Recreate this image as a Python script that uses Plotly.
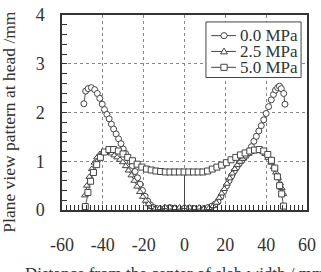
import plotly.graph_objects as go

# ---- data ----
x_00 = [-49.3, -48.4, -47.2, -45.6, -44.0, -42.7, -41.5, -40.3, -39.2, -38.0,
        -36.9, -35.8, -34.7, -33.5, -32.3, -31.1, -30.0, -28.9, -27.7, -26.6,
        -25.5, -24.2, -23.0, -21.8, -20.6, -19.3, -18.0, -16.6, -15.2, -13.6,
        -11.6, -9.4, -7.2, -4.8, -2.4, 0.0,
        2.4, 4.8, 7.2, 9.4, 11.6, 13.4, 15.0, 16.4, 17.8, 19.2,
        20.5, 21.8, 23.1, 24.4, 25.6, 26.8, 28.0, 29.2, 30.4, 31.6,
        32.8, 34.0, 35.2, 36.4, 37.6, 38.8, 40.0, 41.2, 42.5, 43.6,
        44.6, 45.6, 46.5, 47.4, 48.6, 49.2]
y_00 = [2.18, 2.44, 2.49, 2.51, 2.47, 2.39, 2.29, 2.17, 2.06, 1.96,
        1.87, 1.76, 1.66, 1.56, 1.46, 1.36, 1.25, 1.16, 1.07, 0.99,
        0.91, 0.79, 0.66, 0.53, 0.40, 0.28, 0.18, 0.10, 0.05, 0.03,
        0.02, 0.03, 0.05, 0.04, 0.02, 0.03,
        0.04, 0.03, 0.02, 0.03, 0.05, 0.08, 0.12, 0.17, 0.27, 0.38,
        0.49, 0.60, 0.70, 0.80, 0.88, 0.95, 1.01, 1.07, 1.13, 1.19,
        1.30, 1.41, 1.51, 1.62, 1.73, 1.85, 1.98, 2.12, 2.26, 2.37,
        2.46, 2.51, 2.54, 2.49, 2.39, 2.17]

x_25 = [-48.8, -47.8, -46.6, -45.4, -44.1, -42.8, -41.4, -40.0, -38.6, -37.2,
        -35.8, -34.4, -33.0, -31.6, -30.2, -28.8, -27.4, -26.0, -24.6, -23.2,
        -21.8, -20.4, -19.0, -17.6, -16.0, -14.2, -12.0, -9.6, -7.2, -4.8,
        -2.4, 0.0,
        2.4, 4.8, 7.2, 9.6, 12.0, 14.0, 15.6, 17.0, 18.2, 19.5,
        20.8, 22.1, 23.4, 24.6, 25.9, 27.2, 28.5, 29.8, 31.2, 32.6,
        34.0, 35.4, 36.8, 38.2, 39.6, 41.0, 42.4, 43.7, 44.8, 45.8,
        46.8, 47.6, 48.4]
y_25 = [0.30, 0.50, 0.68, 0.84, 0.97, 1.08, 1.15, 1.19, 1.20, 1.19,
        1.16, 1.12, 1.08, 1.03, 0.98, 0.90, 0.81, 0.71, 0.60, 0.48,
        0.37, 0.27, 0.19, 0.12, 0.06, 0.03, 0.04, 0.06, 0.05, 0.04,
        0.05, 0.06,
        0.05, 0.04, 0.05, 0.03, 0.04, 0.08, 0.15, 0.25, 0.34, 0.43,
        0.54, 0.65, 0.75, 0.84, 0.92, 0.99, 1.05, 1.10, 1.15, 1.19,
        1.21, 1.22, 1.22, 1.20, 1.15, 1.07, 0.97, 0.88, 0.77, 0.66,
        0.55, 0.45, 0.33]

x_50 = [-48.6, -47.3, -46.0, -44.6, -43.0, -41.2, -39.2, -37.0, -34.7, -32.4,
        -30.1, -27.8, -25.5, -23.2, -20.9, -18.6, -16.3, -14.0, -11.7, -9.4,
        -7.1, -4.8, -2.5, -0.2, 2.1, 4.4, 6.7, 9.0, 11.3, 13.6,
        15.9, 18.2, 20.5, 22.8, 25.1, 27.4, 29.7, 32.0, 34.3, 36.6,
        38.8, 40.8, 42.6, 44.2, 45.5, 46.6, 47.6, 48.5]
y_50 = [0.07, 0.36, 0.59, 0.77, 0.93, 1.08, 1.19, 1.24, 1.24, 1.21,
        1.15, 1.08, 1.01, 0.94, 0.88, 0.84, 0.82, 0.80, 0.79, 0.78,
        0.78, 0.78, 0.78, 0.78, 0.78, 0.78, 0.78, 0.78, 0.80, 0.84,
        0.88, 0.92, 0.97, 1.03, 1.08, 1.13, 1.17, 1.21, 1.23, 1.24,
        1.21, 1.14, 1.02, 0.86, 0.68, 0.50, 0.33, 0.08]

center_x = [0.0, 0.0]
center_y = [0.0, 0.78]

series_names = ["0.0 MPa", "2.5 MPa", "5.0 MPa"]
x_ticks = [-60, -40, -20, 0, 20, 40, 60]
y_ticks = [0, 1, 2, 3, 4]

FONT = "Liberation Serif"
INK = "#444444"
TXT = "#333333"

fig = go.Figure()

fig.add_trace(go.Scatter(x=center_x, y=center_y, mode="lines",
                         line=dict(color=INK, width=1), showlegend=False,
                         hoverinfo="skip"))

symbols = ["circle", "triangle-up", "square"]
for xs, ys, name, sym in [(x_00, y_00, series_names[0], symbols[0]),
                          (x_25, y_25, series_names[1], symbols[1]),
                          (x_50, y_50, series_names[2], symbols[2])]:
    fig.add_trace(go.Scatter(
        x=xs, y=ys, name=name, mode="lines+markers",
        line=dict(color="#555555", width=1),
        marker=dict(symbol=sym, size=6, color="white",
                    line=dict(color=INK, width=1)),
        showlegend=False,
    ))

# ---- custom compact legend (paper coordinates) ----
shapes = []
annotations = []
box = dict(x0=0.5875, x1=0.9758, y0=0.6795, y1=0.9644)
shapes.append(dict(type="rect", xref="paper", yref="paper", **box,
                   fillcolor="white", line=dict(color=INK, width=1), layer="above"))
row_y = [0.8941, 0.8132, 0.7317]
lx0, lx1, mx = 0.6089, 0.7097, 0.6613
rx, ry = 3.2 / 248, 3.2 / 205
for name, sym, yy in zip(series_names, symbols, row_y):
    shapes.append(dict(type="line", xref="paper", yref="paper",
                       x0=lx0, x1=lx1, y0=yy, y1=yy,
                       line=dict(color=INK, width=1), layer="above"))
    if sym == "circle":
        shapes.append(dict(type="circle", xref="paper", yref="paper",
                           x0=mx - rx, x1=mx + rx, y0=yy - ry, y1=yy + ry,
                           fillcolor="white", line=dict(color=INK, width=1), layer="above"))
    elif sym == "square":
        shapes.append(dict(type="rect", xref="paper", yref="paper",
                           x0=mx - rx, x1=mx + rx, y0=yy - ry, y1=yy + ry,
                           fillcolor="white", line=dict(color=INK, width=1), layer="above"))
    else:
        path = "M {:.4f},{:.4f} L {:.4f},{:.4f} L {:.4f},{:.4f} Z".format(
            mx - rx * 1.1, yy - ry * 0.8, mx + rx * 1.1, yy - ry * 0.8, mx, yy + ry * 1.1)
        shapes.append(dict(type="path", xref="paper", yref="paper", path=path,
                           fillcolor="white", line=dict(color=INK, width=1), layer="above"))
    annotations.append(dict(text=name, xref="paper", yref="paper", x=0.7177, y=yy,
                            xanchor="left", yanchor="middle", showarrow=False,
                            font=dict(family=FONT, size=17, color=TXT)))

annotations.append(dict(text="Distance from the center of slab width / mm",
                        xref="paper", yref="paper", x=-0.161, y=-0.268,
                        xanchor="left", yanchor="top", showarrow=False,
                        font=dict(family=FONT, size=17, color=TXT)))
annotations.append(dict(text="Plane view pattern at head /mm",
                        xref="paper", yref="paper", x=-0.218, y=0.451,
                        xanchor="center", yanchor="middle", textangle=-90,
                        showarrow=False,
                        font=dict(family=FONT, size=17.5, color=TXT)))

fig.update_layout(
    width=321, height=272,
    margin=dict(l=62, r=11, t=5, b=62),
    paper_bgcolor="white", plot_bgcolor="white",
    font=dict(family=FONT, size=18, color=TXT),
    showlegend=False,
    shapes=shapes,
    annotations=annotations,
)

fig.update_xaxes(
    range=[-60, 60], tickvals=x_ticks, ticktext=[str(v) for v in x_ticks],
    showline=True, linecolor="#333333", linewidth=1.5, mirror=True,
    ticks="inside", ticklen=5, tickcolor="#333333",
    minor=dict(dtick=2, ticks="inside", ticklen=5, tickcolor="#333333", showgrid=False),
    showgrid=True, gridcolor="#888888", griddash="dot", gridwidth=1,
    zeroline=False, ticklabelstandoff=18, ticklabeloverflow="allow",
)
fig.update_yaxes(
    range=[0, 4], tickvals=y_ticks, ticktext=[str(v) for v in y_ticks],
    showline=True, linecolor="#333333", linewidth=1.5, mirror=True,
    ticks="inside", ticklen=5, tickcolor="#333333",
    minor=dict(dtick=0.2, ticks="inside", ticklen=5, tickcolor="#333333", showgrid=False),
    showgrid=True, gridcolor="#888888", griddash="dot", gridwidth=1,
    zeroline=False, ticklabelstandoff=12, ticklabeloverflow="allow",
)

fig.write_html("out.html")
